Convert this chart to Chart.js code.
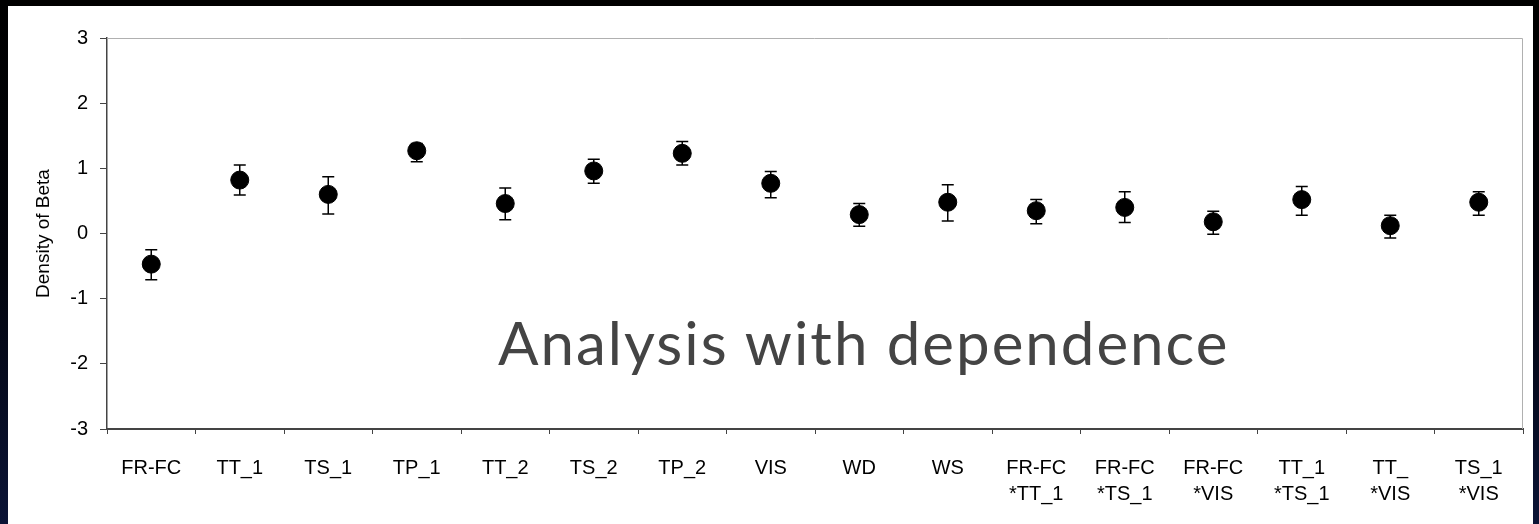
<!DOCTYPE html>
<html>
<head>
<meta charset="utf-8">
<script src="https://cdn.jsdelivr.net/npm/chart.js@4.4.1/dist/chart.umd.min.js"></script>
<style>
  html, body { margin: 0; padding: 0; background: #000; }
  #frame { position: absolute; left: 0; top: 0; width: 1539px; height: 524px;
           background: linear-gradient(to bottom, #000 0%, #02040c 50%, #0b1436 100%); overflow: hidden; }
  #panel { position: absolute; left: 8px; top: 6px; width: 1525px; height: 518px; background: #fff; }
  #c { position: absolute; left: 0; top: 0; }
  #note { position: absolute; left: 498px; top: 312px; font-family: Lato, "Open Sans", sans-serif;
          font-size: 60px; letter-spacing: 2px; color: #444; white-space: nowrap; line-height: 1; }
</style>
</head>
<body>
<div id="frame">
  <div id="panel"></div>
  <canvas id="c" width="1539" height="524"></canvas>
  <div id="note">Analysis with dependence</div>
</div>
<script>
const categories = ['FR-FC', 'TT_1', 'TS_1', 'TP_1', 'TT_2', 'TS_2', 'TP_2', 'VIS', 'WD', 'WS',
  ['FR-FC', '*TT_1'], ['FR-FC', '*TS_1'], ['FR-FC', '*VIS'], ['TT_1', '*TS_1'], ['TT_', '*VIS'], ['TS_1', '*VIS']];
const means = [-0.47, 0.82, 0.60, 1.27, 0.46, 0.96, 1.23, 0.77, 0.29, 0.48, 0.35, 0.40, 0.18, 0.52, 0.12, 0.48];
const upper = [-0.25, 1.05, 0.87, 1.38, 0.70, 1.14, 1.41, 0.95, 0.46, 0.75, 0.52, 0.64, 0.34, 0.72, 0.28, 0.64];
const lower = [-0.71, 0.59, 0.30, 1.10, 0.21, 0.77, 1.05, 0.55, 0.11, 0.19, 0.15, 0.17, -0.01, 0.28, -0.07, 0.28];
const yTicks = [-3, -2, -1, 0, 1, 2, 3];
const yTitle = 'Density of Beta';

const errorBars = {
  id: 'errorBars',
  beforeDatasetsDraw(chart) {
    const ctx = chart.ctx, xs = chart.scales.x, ys = chart.scales.y;
    ctx.save();
    ctx.strokeStyle = '#000';
    ctx.lineWidth = 1.5;
    means.forEach((m, i) => {
      const x = xs.getPixelForValue(i);
      const yt = ys.getPixelForValue(upper[i]);
      const yb = ys.getPixelForValue(lower[i]);
      ctx.beginPath();
      ctx.moveTo(x, yt); ctx.lineTo(x, yb);
      ctx.moveTo(x - 6, yt); ctx.lineTo(x + 6, yt);
      ctx.moveTo(x - 6, yb); ctx.lineTo(x + 6, yb);
      ctx.stroke();
    });
    ctx.restore();
  }
};

const frameLines = {
  id: 'frameLines',
  beforeDatasetsDraw(chart) {
    const a = chart.chartArea, ctx = chart.ctx;
    ctx.save();
    ctx.strokeStyle = '#b0b0b0';
    ctx.lineWidth = 1;
    ctx.beginPath();
    ctx.moveTo(a.left, a.top + 0.5); ctx.lineTo(a.right - 0.5, a.top + 0.5);
    ctx.lineTo(a.right - 0.5, a.bottom);
    ctx.stroke();
    ctx.restore();
  }
};

new Chart(document.getElementById('c'), {
  type: 'line',
  data: {
    labels: categories,
    datasets: [{
      data: means,
      showLine: false,
      pointRadius: 9,
      pointHoverRadius: 9,
      pointBackgroundColor: '#000',
      pointBorderColor: '#000',
      borderColor: '#000'
    }]
  },
  options: {
    responsive: false,
    animation: false,
    events: [],
    layout: { padding: { left: 0, right: 16, top: 38, bottom: 0 } },
    plugins: { legend: { display: false }, tooltip: { enabled: false } },
    scales: {
      x: {
        type: 'category',
        offset: true,
        grid: { offset: true, drawOnChartArea: false, drawTicks: true, tickLength: 5, tickColor: '#444', lineWidth: 1 },
        border: { display: true, color: '#444', width: 2 },
        ticks: { color: '#000', font: { family: 'Liberation Sans, Arial, sans-serif', size: 20, lineHeight: 1.3 },
                 padding: 21, maxRotation: 0, minRotation: 0, autoSkip: false },
        afterFit(scale) { scale.height = 95; }
      },
      y: {
        min: -3, max: 3,
        afterBuildTicks(scale) { scale.ticks = yTicks.map(v => ({ value: v })); },
        grid: { drawOnChartArea: false, drawTicks: true, tickLength: 7, tickColor: '#444', lineWidth: 1 },
        border: { display: true, color: '#444', width: 1.5 },
        ticks: { color: '#000', font: { family: 'Liberation Sans, Arial, sans-serif', size: 20 }, padding: 12 },
        title: { display: true, text: yTitle, color: '#000',
                 font: { family: 'Liberation Sans, Arial, sans-serif', size: 19, lineHeight: 1.2 },
                 padding: { top: 32, bottom: 0 } },
        afterFit(scale) { scale.width = 107; }
      }
    }
  },
  plugins: [errorBars, frameLines]
});
</script>
</body>
</html>
